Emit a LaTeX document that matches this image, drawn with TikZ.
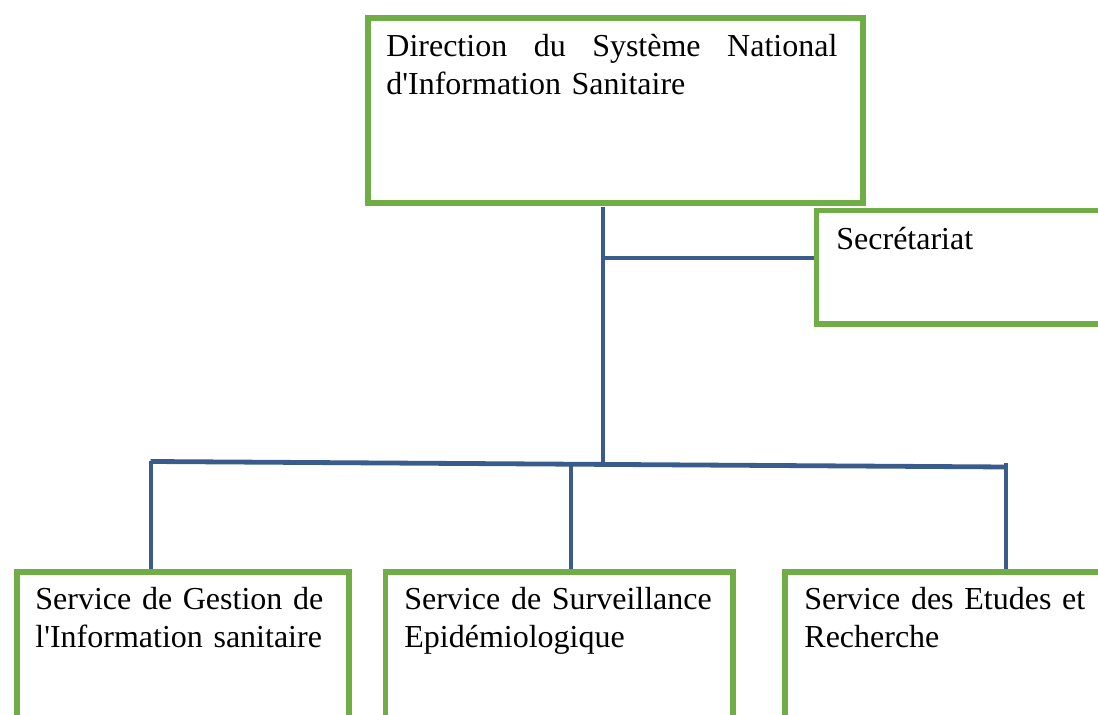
\documentclass[tikz,border=0pt]{standalone}
\usepackage{fontspec}
\setmainfont{Liberation Serif}
\definecolor{boxgreen}{RGB}{112,173,71}
\definecolor{linkblue}{RGB}{58,92,140}
\tikzset{
  unit/.style={draw=boxgreen, line width=2.8pt, anchor=north west, inner sep=0pt},
  lbl/.style={anchor=base west, inner sep=0pt, align=left, font=\fontsize{16}{19}\selectfont},
  link/.style={draw=linkblue, line width=2pt}
}

\begin{document}
\begin{tikzpicture}[x=0.5pt,y=-0.5pt]
    \useasboundingbox (0,0) rectangle (1098,715);
    \clip (0,0) rectangle (1098,715);
    % boxes
    \node[unit, minimum width=247.5pt, minimum height=92.25pt] (dir) at (365,15.5) {};
    \node[unit, minimum width=153pt, minimum height=56.65pt] (sec) at (813.7,207.7) {};
    \node[unit, minimum width=166pt, minimum height=85pt] (gest) at (14,569.5) {};
    \node[unit, minimum width=173.75pt, minimum height=85pt] (surv) at (382.5,569.5) {};
    \node[unit, minimum width=170pt, minimum height=85pt] (etud) at (782,569.5) {};
    % links
    \coordinate (top) at (603,207);
    \coordinate (hub) at (603,257.7);
    \coordinate (busC) at (603,463);
    \coordinate (busL) at (150.5,461.5);
    \coordinate (busM) at (571,465);
    \coordinate (busR) at (1006,467);
    \coordinate (dropR) at (1006,463);
    \draw[link] (top) -- (busC);
    \draw[link] (hub) -- (hub -| sec.west);
    \draw[link, line width=2.4pt] (busL) -- (busR);
    \draw[link] (busL) -- (busL |- gest.north);
    \draw[link] (busM) -- (busM |- surv.north);
    \draw[link] (dropR) -- (dropR |- etud.north);
    % texts
    \node[lbl, text width=225.5pt] (dirlbl) at (386,56.7)
        {Direction\hfill du\hfill Système\hfill National\\d\textquotesingle Information Sanitaire};
    \node[lbl, text width=120pt] (seclbl) at (836,250) {Secrétariat};
    \node[lbl, text width=154pt] (gestlbl) at (35,610)
        {Service de Gestion de\\l\textquotesingle Information sanitaire};
    \node[lbl, text width=160pt] (survlbl) at (404,610)
        {Service de Surveillance\\Epidémiologique};
    \node[lbl, text width=150pt] (etudlbl) at (804,610)
        {Service des Etudes et\\Recherche};
\end{tikzpicture}
\end{document}
